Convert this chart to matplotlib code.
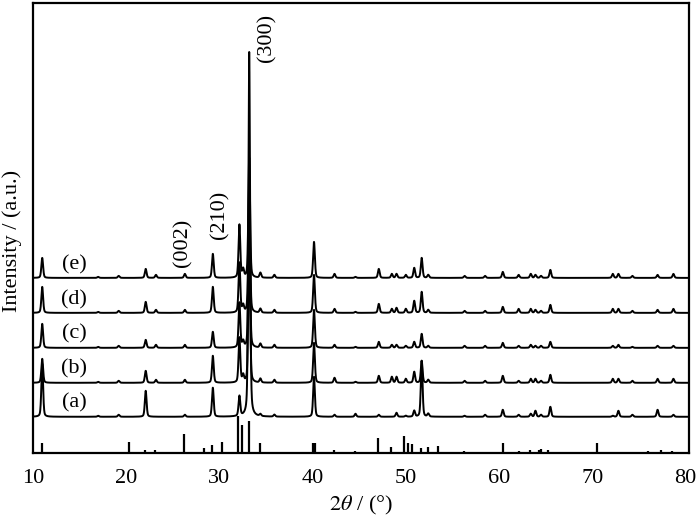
import numpy as np
import matplotlib
matplotlib.use('Agg')
import matplotlib.pyplot as plt

plt.rcParams['font.family'] = ['Liberation Serif', 'DejaVu Serif']
plt.rcParams['mathtext.fontset'] = 'stix'

# peak positions (2theta) shared by all samples
peak_pos = [11.0, 17.0, 19.2, 22.1, 23.2, 26.3, 29.3, 32.15, 32.55, 33.2,
            34.4, 35.9, 40.15, 42.35, 44.6, 47.1, 48.5, 49.0, 50.0, 50.9,
            51.7, 52.4, 56.3, 58.5, 60.4, 62.1, 63.4, 63.9, 64.5, 65.5,
            72.2, 72.8, 74.3, 77.0, 78.7]

# peak heights
h_a = [53, 1, 2, 26, 0, 2, 29, 20, 0, 365,
       2, 2, 40, 2, 3, 2, 0, 4, 1, 6,
       56, 3, 1, 2, 7, 2, 3, 6, 2, 10,
       1, 6, 2, 7, 2]
h_b = [24, 1, 2, 12, 3, 3, 27, 45, 7, 150,
       4, 3, 40, 5, 1, 7, 6, 6, 4, 11,
       22, 3, 2, 2, 7, 2, 4, 4, 2, 8,
       4, 4, 2, 4, 4]
h_c = [24, 1, 2, 8, 3, 3, 16, 45, 6, 140,
       4, 3, 38, 3, 1, 6, 3, 3, 2, 6,
       14, 2, 2, 2, 5, 2, 3, 2, 2, 6,
       2, 3, 1, 2, 2]
h_d = [26, 1, 2, 11, 3, 3, 26, 50, 7, 130,
       4, 3, 38, 4, 1, 9, 4, 5, 4, 12,
       21, 3, 2, 2, 6, 4, 4, 3, 2, 8,
       4, 4, 2, 3, 4]
h_e = [20, 1, 2, 9, 3, 4, 24, 53, 8, 120,
       5, 3, 36, 4, 1, 9, 4, 4, 3, 10,
       20, 3, 2, 2, 6, 3, 4, 3, 2, 8,
       4, 4, 2, 3, 4]

labels = ['(a)', '(b)', '(c)', '(d)', '(e)']
offsets = [36, 70, 105, 140, 175]

# reference card sticks
stick_pos = [11.0, 17.1, 20.3, 22.0, 23.1, 26.2, 28.4, 29.2, 30.3, 32.05,
             32.4, 33.15, 34.35, 35.7, 40.05, 40.3, 42.3, 44.5, 47.0, 48.4,
             49.8, 50.25, 50.7, 51.6, 52.4, 53.5, 56.2, 57.4, 60.4, 62.1,
             63.3, 64.3, 64.5, 65.3, 70.5, 74.4, 76.0, 77.4, 78.6]
stick_h = [10, 1, 11, 3, 3, 19, 5, 8, 11, 37,
           28, 32, 10, 1, 10, 10, 3, 2, 15, 6,
           17, 10, 9, 5, 6, 7, 2, 1, 10, 2,
           3, 3, 4, 3, 10, 1, 2, 3, 2]

hkl = ['(002)', '(210)', '(300)']
hkl_x = [26.1, 30.0, 35.1]
hkl_y = [210, 238, 415]

fig = plt.figure(figsize=(7, 5.21), dpi=100)
ax = fig.add_axes([0.047, 0.131, 0.937, 0.863])

tt = np.arange(10, 80.6, 0.01)
fwhm = 0.22
eta = 0.35  # lorentzian fraction of the peak shape
for h, off, lab in zip([h_a, h_b, h_c, h_d, h_e], offsets, labels):
    y = np.full_like(tt, off, dtype=float)
    for p, hh in zip(peak_pos, h):
        u = (tt - p) / (fwhm / 2)
        y += hh * (eta / (1 + u ** 2) + (1 - eta) * np.exp(-np.log(2) * u ** 2))
    ax.plot(tt, y, color='black', lw=1.4)
    ax.text(14.4, off + 13.5, lab, fontsize=16, ha='center', va='center')

ax.vlines(stick_pos, 0, stick_h, color='black', lw=1.6)

for t, x, y in zip(hkl, hkl_x, hkl_y):
    ax.text(x, y, t, fontsize=16, rotation=90, ha='center', va='center')

ax.set_xlim(10, 80.35)
ax.set_ylim(0, 450)
ax.set_xticks(np.arange(10, 81, 10))
ax.set_yticks([])
ax.tick_params(axis='x', length=0, pad=12, labelsize=16)
for s in ax.spines.values():
    s.set_linewidth(1.6)

ax.set_xlabel(r'$2\theta$ / (°)', fontsize=16, labelpad=4)
ax.set_ylabel('Intensity / (a.u.)', fontsize=16)
ax.yaxis.set_label_coords(-0.017, 0.47)

fig.savefig('out.png', dpi=100)
